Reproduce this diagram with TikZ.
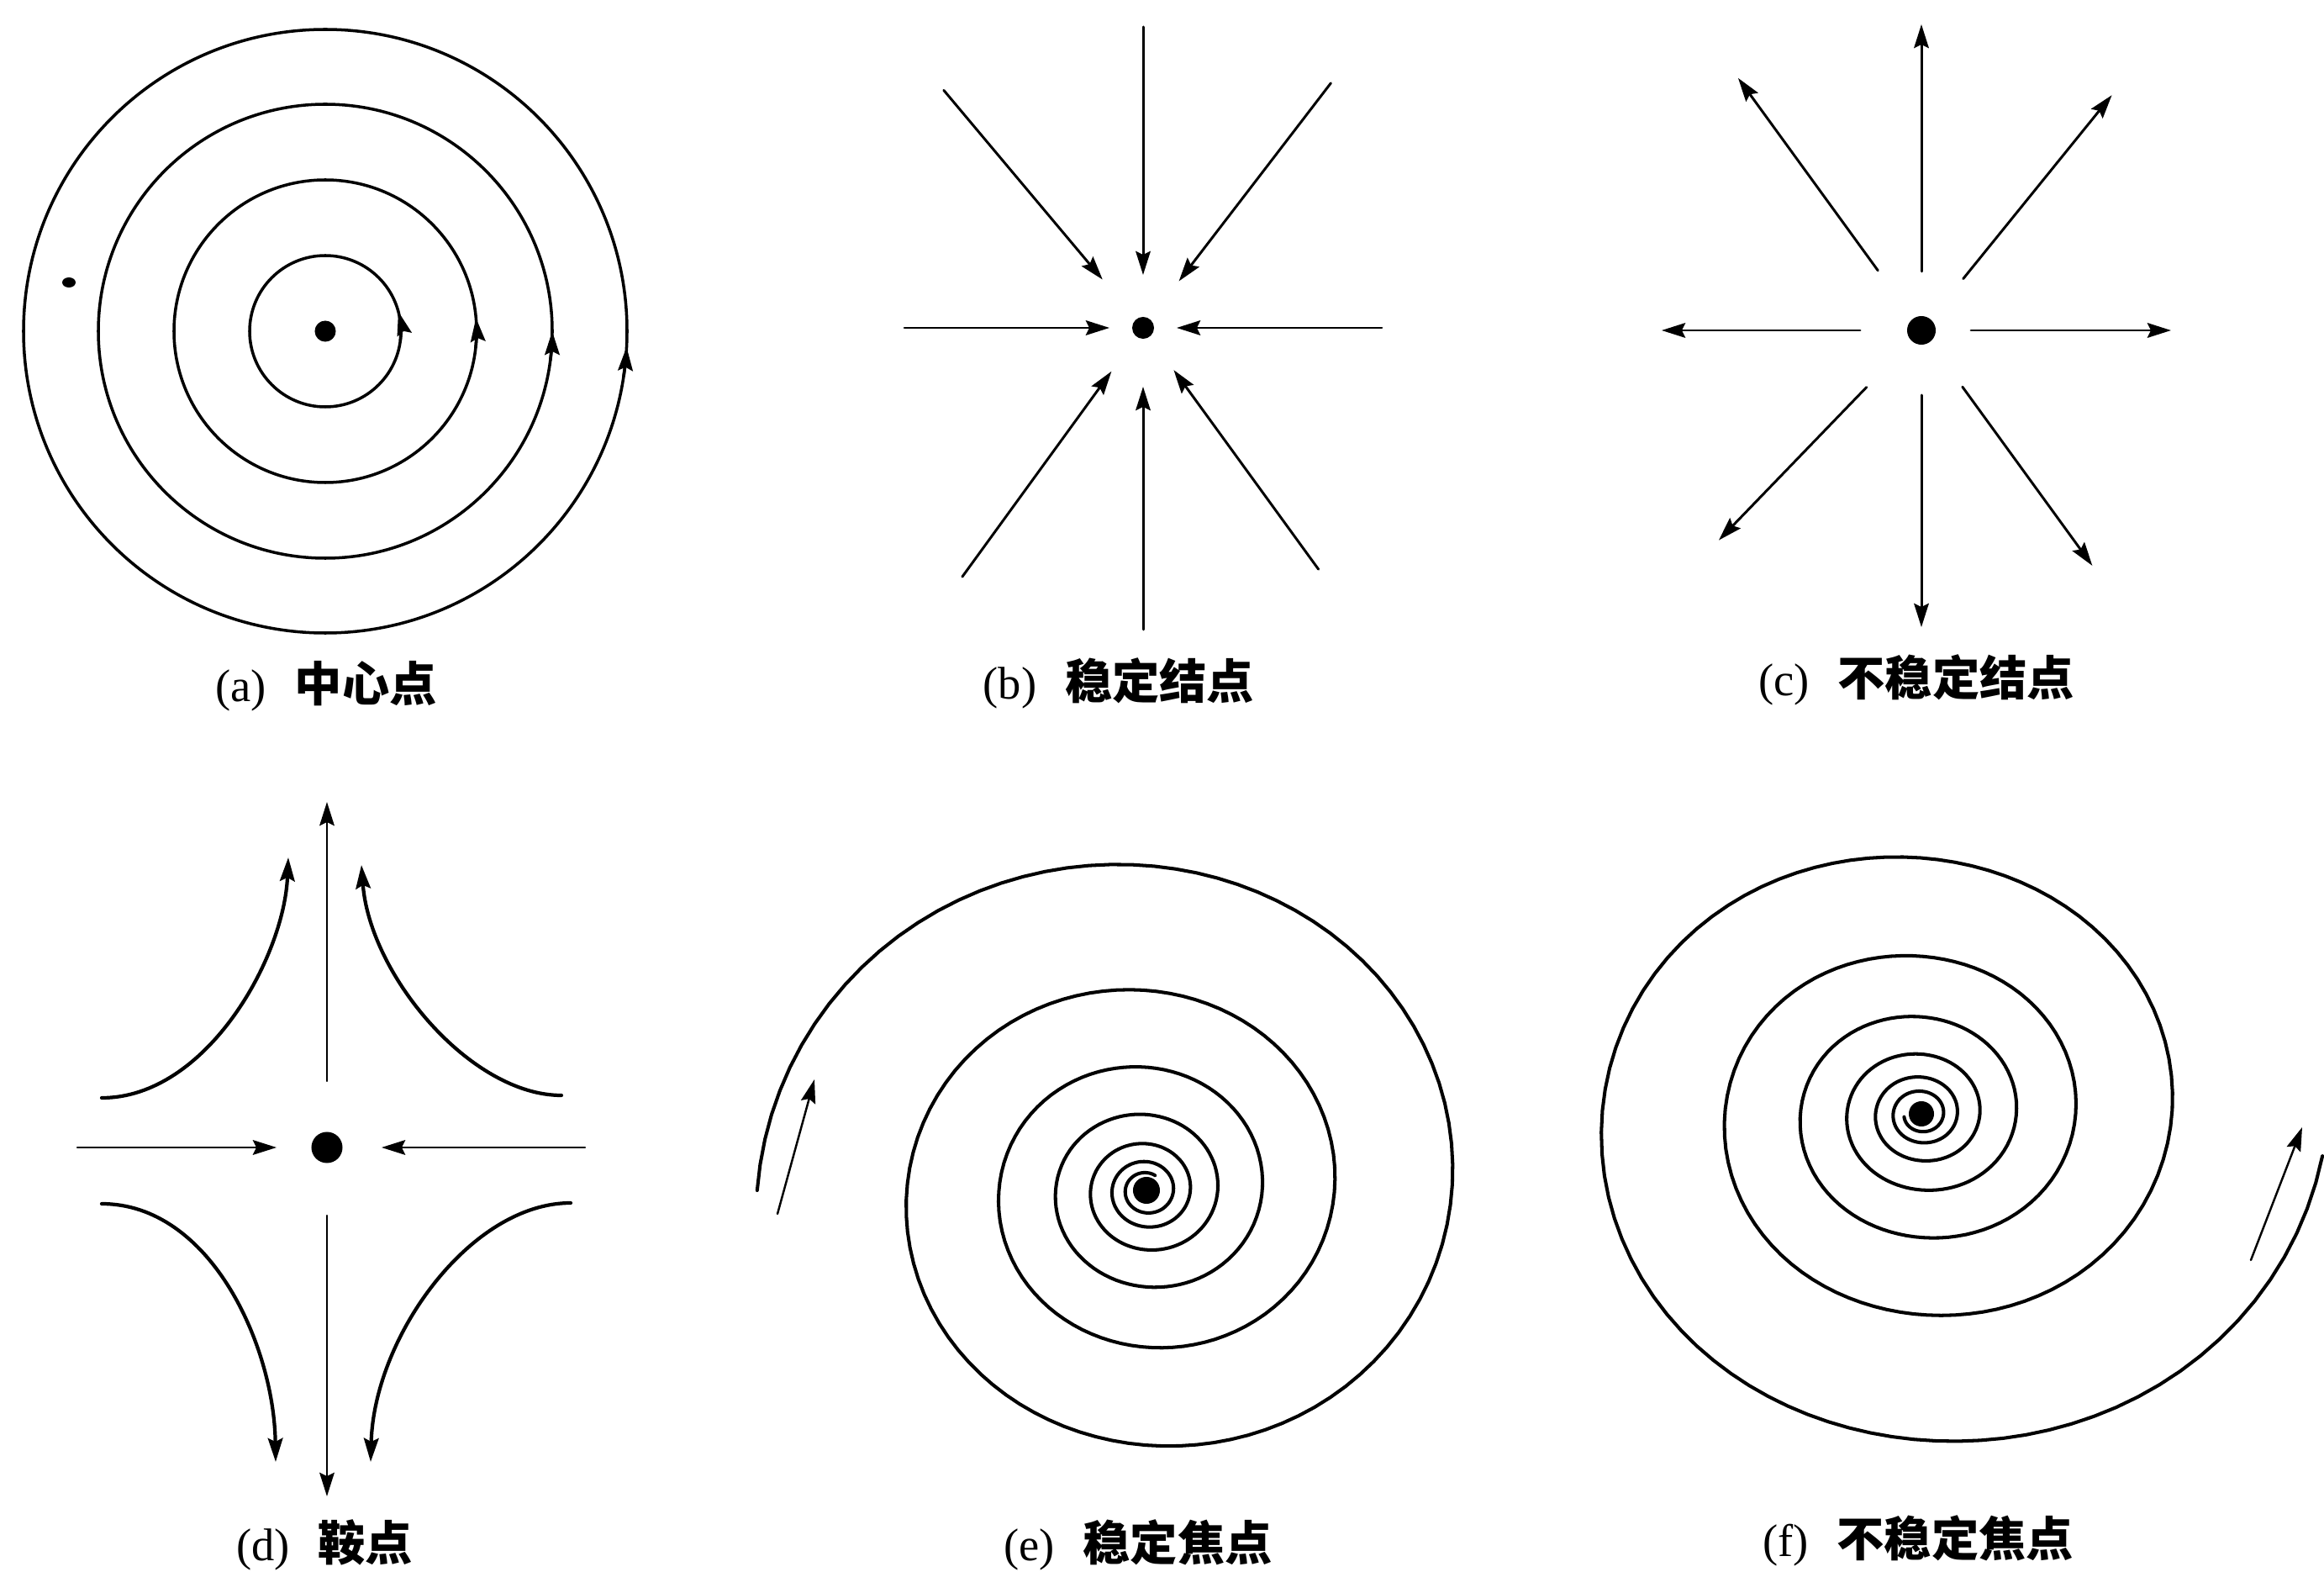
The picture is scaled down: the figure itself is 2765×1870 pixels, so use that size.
\documentclass[tikz,border=0pt]{standalone}
\usepackage{fontspec}
\setmainfont{Liberation Serif}
\newfontfamily\cjk{Noto Sans CJK SC}
\usetikzlibrary{arrows.meta}
\newcommand{\figlab}[2]{(#1)\hspace{0.62em}{\cjk\bfseries\fontsize{16}{18}\selectfont #2}}

\begin{document}
\begin{tikzpicture}[x=0.01cm, y=-0.01cm, line join=round, line cap=round,
        >={Stealth[length=8pt,width=5pt,inset=1.2pt]},
        dot/.style={circle, fill, inner sep=0pt, minimum size=#1*0.02cm},
        lab/.style={anchor=base, font=\fontsize{15.5}{18}\selectfont},
        orbit/.style={line width=1pt},
        ray/.style={line width=0.85pt},
        axis/.style={line width=0.7pt},
        branch/.style={line width=1.2pt},
        spiral/.style={line width=1.15pt}]
        \useasboundingbox (0,0) rectangle (2765,1870);
        % (a) centre
        \node[dot=12.5] (ca) at (387,394) {};
        \foreach \r/\a in {90/-15,180/-5,270/0,359/3}{
            \draw[orbit] (ca.center) circle[radius=\r];
            \draw[orbit,->] (ca.center) ++({\a+2000/\r}:\r) arc ({\a+2000/\r}:\a:\r);
        }
        \fill (82,336) ellipse[x radius=8, y radius=6];
        % (b) stable node
        \node[dot=13] (cb) at (1360,390) {};
        \foreach \a/\r/\R in {270/63/358, 90/70/359, 180/40/284, 0/40/284,
                              230/75/369, 307.5/70/367, 126/64/366, 54/62/355}
            \draw[ray,->] ([shift={(\a:\R)}]cb.center) -- ([shift={(\a:\r)}]cb.center);
        % (c) unstable node
        \node[dot=17] (cc) at (2286,393) {};
        \foreach \a/\r/\R in {270/70/364, 90/77/353, 180/73/309, 0/59/297,
                              234/88/371, 309/79/360, 134/94/347, 54/83/346}
            \draw[ray,->] ([shift={(\a:\r)}]cc.center) -- ([shift={(\a:\R)}]cc.center);
        % (d) saddle
        \node[dot=18.5] (cd) at (389,1365) {};
        \foreach \a/\r/\R in {270/79/411, 90/81/415}
            \draw[axis,->] ([shift={(\a:\r)}]cd.center) -- ([shift={(\a:\R)}]cd.center);
        \foreach \a/\r/\R in {180/60/297, 0/65/307}
            \draw[axis,->] ([shift={(\a:\R)}]cd.center) -- ([shift={(\a:\r)}]cd.center);
        \draw[branch,->] (121,1306) .. controls (245,1306) and (338,1140) .. (343,1020);
        \draw[branch,->] (668,1303) .. controls (560,1303) and (440,1160) .. (430,1029);
        \draw[branch,->] (121,1432) .. controls (250,1432) and (326,1600) .. (328,1739);
        \draw[branch,->] (679,1431) .. controls (560,1431) and (445,1590) .. (441,1739);
        % (e) stable focus
        \node[dot=16] (ce) at (1364,1416) {};
        \begin{scope}[shift={(ce.center)}]
            \draw[spiral] plot[domain=180:2460, samples=600]
                (\x:{573*exp(-0.0772*rad(\x))*(1+0.03*cos(2*\x))});
        \end{scope}
        \coordinate (ea) at (925,1444);
        \coordinate (eb) at (969,1284);
        \draw[axis,->] (ea) -- (eb);
        % (f) unstable focus
        \node[dot=15] (cf) at (2286,1325) {};
        \begin{scope}[shift={(cf.center)}]
            \draw[spiral] plot[domain=6:2330, samples=600]
                (\x:{461*exp(-0.0772*rad(\x))*(1+0.05*cos(2*\x))});
        \end{scope}
        \coordinate (fa) at (2678,1499);
        \coordinate (fb) at (2739,1341);
        \draw[axis,->] (fa) -- (fb);
        % labels
        \node[lab] (la) at (388,834) {\figlab{a}{中心点}};
        \node[lab] (lb) at (1331,832) {\figlab{b}{稳定结点}};
        \node[lab] (lc) at (2280,828) {\figlab{c}{不稳定结点}};
        \node[lab] (ld) at (386,1856) {\figlab{d}{鞍点}};
        \node[lab] (le) at (1354,1856) {\figlab{e}{稳定焦点}};
        \node[lab] (lf) at (2282,1851) {\figlab{f}{不稳定焦点}};
\end{tikzpicture}
\end{document}
